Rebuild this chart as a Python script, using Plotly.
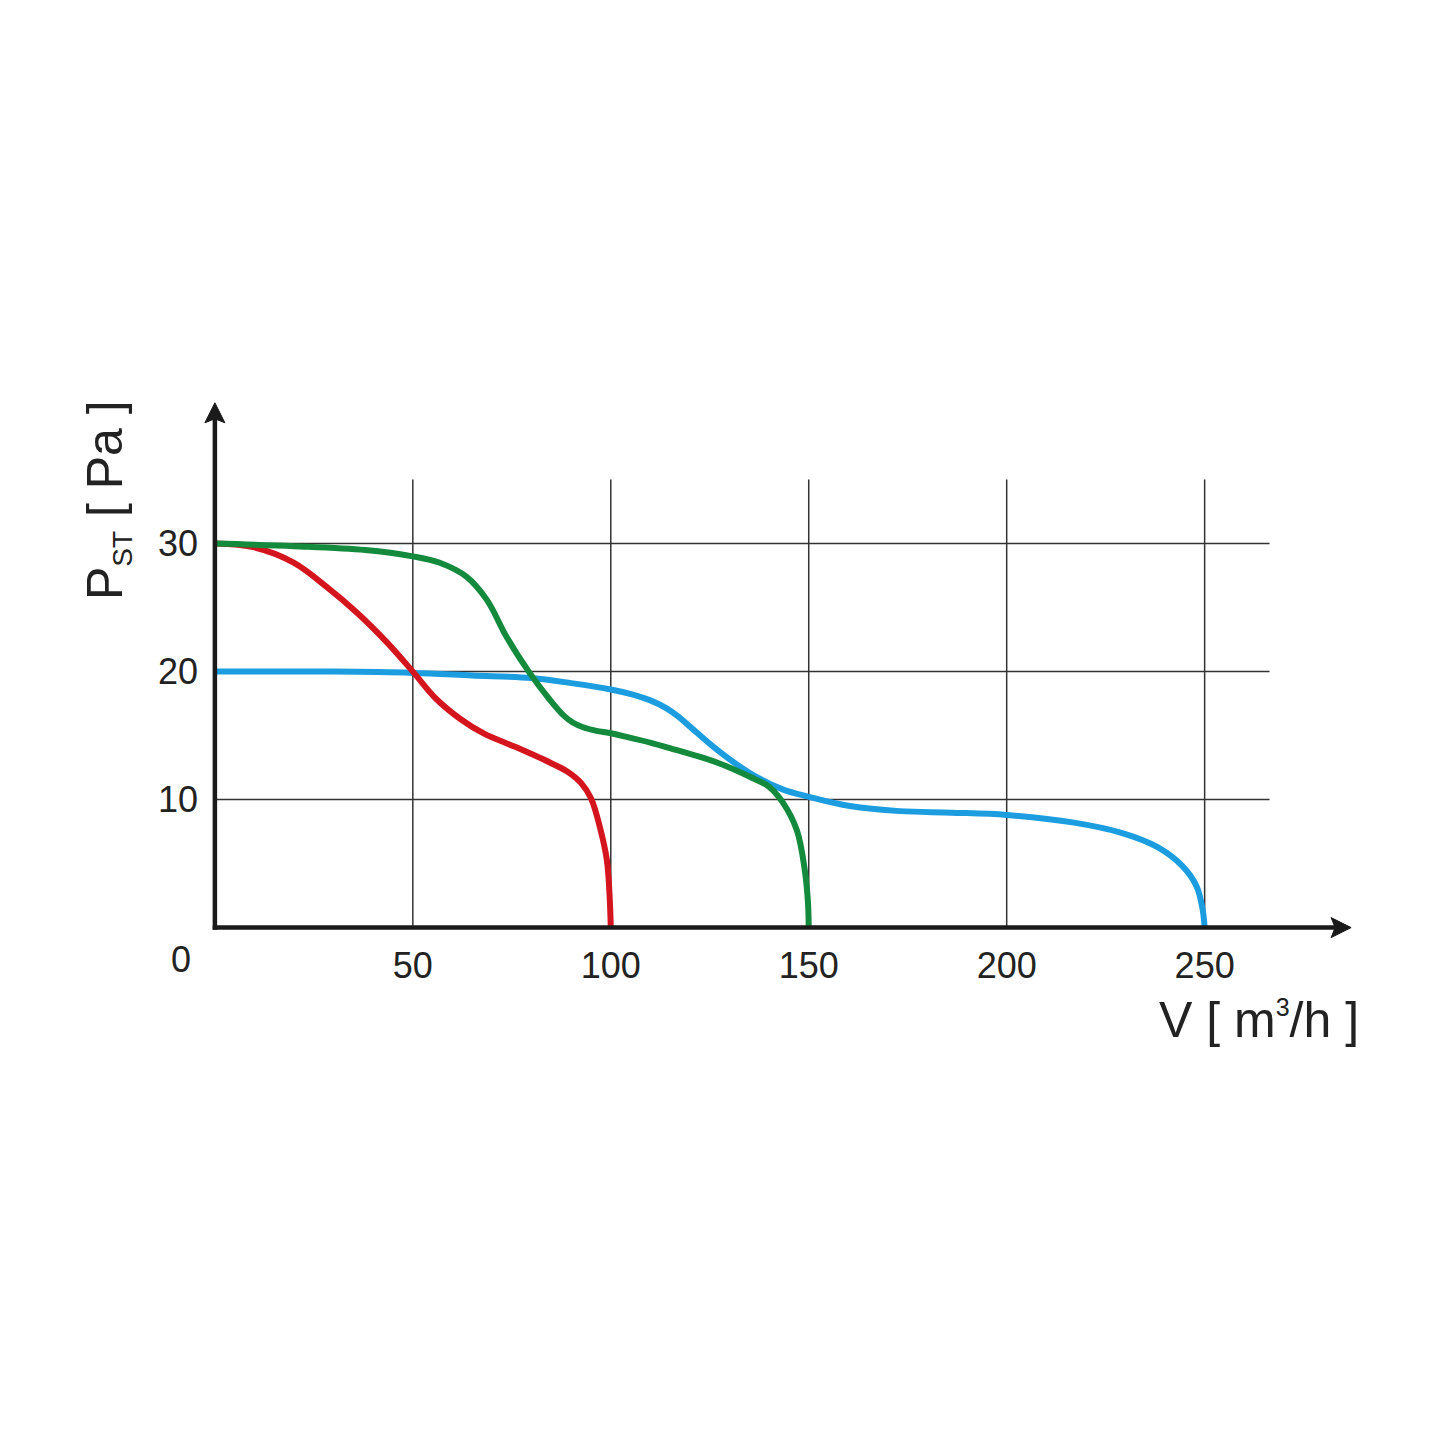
import plotly.graph_objects as go

# ---- data ----
red_x = [0, 10, 20, 28.3, 35.9, 43.4, 50, 56, 62, 68, 76, 84.6, 89, 92.5, 95, 97.2, 99, 99.7, 100]
red_y = [30, 29.7, 28.5, 26.6, 24.6, 22.3, 20, 17.84, 16.3, 15.15, 14.1, 12.9, 12.2, 11.3, 10.1, 7.9, 5.3, 2.5, 0]

green_x = [0, 20, 38, 50, 56.8, 63.6, 68.7, 73.7, 79.5, 84.6, 88, 90.5, 93, 96.4, 99.7, 104, 110.6, 114, 126.8, 135, 140, 143.4, 147, 149, 149.8, 150]
green_y = [30, 29.8, 29.5, 29.0, 28.5, 27.4, 25.6, 22.7, 19.9, 17.8, 16.6, 16.0, 15.65, 15.37, 15.2, 14.9, 14.4, 14.1, 12.9, 11.8, 11.0, 9.8, 7.6, 4.5, 2.0, 0]

blue_x = [0, 30, 50, 65, 80, 90, 100, 105.6, 110, 114, 117, 120, 126.8, 135, 143.4, 150.3, 160.4, 173, 186, 200, 217, 229, 238, 244.4, 248, 249.5, 250]
blue_y = [20, 20, 19.9, 19.7, 19.5, 19.1, 18.6, 18.2, 17.75, 17.15, 16.5, 15.7, 13.9, 12.1, 10.8, 10.2, 9.5, 9.1, 8.98, 8.8, 8.2, 7.4, 6.3, 4.8, 3.2, 1.4, 0]

x_ticks = [50, 100, 150, 200, 250]
x_tick_labels = ["50", "100", "150", "200", "250"]
y_ticks = [10, 20, 30]
y_tick_labels = ["10", "20", "30"]

x_title = "V [ m<sup><span style='font-size:25px'>3</span></sup>/h ]"
y_title = "P<sub><span style='font-size:28px'>ST</span></sub> [ Pa ]"
origin_label = "0"

# ---- styling / layout constants ----
W, H = 1424, 1424          # page body has an 8px margin
X_MIN, X_MAX = -3, 290
Y_MIN, Y_MAX = -3, 42
PX_PER_X = 3.96
PX_PER_Y = 12.8
ORIGIN_X_PX = 207          # pixel of x = 0
ORIGIN_Y_PX = 920          # pixel of y = 0
LEFT = ORIGIN_X_PX + X_MIN * PX_PER_X
BOTTOM_PX = ORIGIN_Y_PX - Y_MIN * PX_PER_Y
right_px = LEFT + (X_MAX - X_MIN) * PX_PER_X
top_px = BOTTOM_PX - (Y_MAX - Y_MIN) * PX_PER_Y

FONT = "Liberation Sans, Arial, Helvetica, sans-serif"
TXT = "#222222"
GRID = "#333333"
AXIS = "#1a1a1a"
GRID_TOP = 35
GRID_RIGHT = 266.4
X_ARROW_END = 287
Y_ARROW_END = 41


def px(xv):  # data x -> paper x
    return (xv - X_MIN) / (X_MAX - X_MIN)


def py(yv):  # data y -> paper y
    return (yv - Y_MIN) / (Y_MAX - Y_MIN)


fig = go.Figure()

series = [
    (blue_x, blue_y, "#1b9de0"),
    (red_x, red_y, "#d4151d"),
    (green_x, green_y, "#138a3c"),
]
for xs, ys, col in series:
    fig.add_trace(go.Scatter(
        x=xs, y=ys, mode="lines",
        line=dict(color=col, width=6, shape="spline", smoothing=1.0, simplify=False),
        hoverinfo="skip", showlegend=False,
    ))

shapes = []
for xv in x_ticks:
    shapes.append(dict(type="line", xref="x", yref="y", x0=xv, x1=xv, y0=0, y1=GRID_TOP,
                       line=dict(color=GRID, width=1.5), layer="below"))
for yv in y_ticks:
    shapes.append(dict(type="line", xref="x", yref="y", x0=0, x1=GRID_RIGHT, y0=yv, y1=yv,
                       line=dict(color=GRID, width=1.5), layer="below"))

# axes with arrowheads
shapes.append(dict(type="line", xref="x", yref="y", x0=-0.55, x1=X_ARROW_END - 3, y0=0, y1=0,
                   line=dict(color=AXIS, width=4.5), layer="above"))
shapes.append(dict(type="line", xref="x", yref="y", x0=0, x1=0, y0=-0.17, y1=Y_ARROW_END - 1,
                   line=dict(color=AXIS, width=4.5), layer="above"))
shapes.append(dict(type="path", xref="x", yref="y", xsizemode="pixel", ysizemode="pixel",
                   xanchor=X_ARROW_END, yanchor=0,
                   path="M 0 0 L -20 10 L -16 0 L -20 -10 Z",
                   fillcolor=AXIS, line=dict(color=AXIS, width=1), layer="above"))
shapes.append(dict(type="path", xref="x", yref="y", xsizemode="pixel", ysizemode="pixel",
                   xanchor=0, yanchor=Y_ARROW_END,
                   path="M 0 0 L 10 -20 L 0 -16 L -10 -20 Z",
                   fillcolor=AXIS, line=dict(color=AXIS, width=1), layer="above"))

annotations = [
    dict(x=px(289.6), y=py(-7.2), xref="paper", yref="paper", text=x_title, showarrow=False,
         xanchor="right", yanchor="middle", font=dict(family=FONT, size=50, color=TXT)),
    dict(x=px(-27), y=py(33.4), xref="paper", yref="paper", text=y_title, showarrow=False,
         textangle=-90, xanchor="center", yanchor="middle",
         font=dict(family=FONT, size=50, color=TXT)),
    dict(x=px(-8.6), y=py(-2.5), xref="paper", yref="paper", text=origin_label, showarrow=False,
         xanchor="center", yanchor="middle", font=dict(family=FONT, size=36, color=TXT)),
]

fig.update_layout(
    width=W, height=H, autosize=False,
    margin=dict(l=LEFT, r=W - right_px, t=top_px, b=H - BOTTOM_PX, pad=0),
    paper_bgcolor="white", plot_bgcolor="white",
    shapes=shapes, annotations=annotations,
    xaxis=dict(range=[X_MIN, X_MAX], showgrid=False, zeroline=False, showline=False,
               tickmode="array", tickvals=x_ticks, ticktext=x_tick_labels, ticks="",
               tickfont=dict(family=FONT, size=36, color=TXT),
               ticklabelstandoff=int(round(13 + Y_MIN * PX_PER_Y)), fixedrange=True),
    yaxis=dict(range=[Y_MIN, Y_MAX], showgrid=False, zeroline=False, showline=False,
               tickmode="array", tickvals=y_ticks, ticktext=y_tick_labels, ticks="",
               tickfont=dict(family=FONT, size=36, color=TXT),
               ticklabelstandoff=int(round(16 + X_MIN * PX_PER_X)), fixedrange=True),
)

fig.write_html("out.html")
